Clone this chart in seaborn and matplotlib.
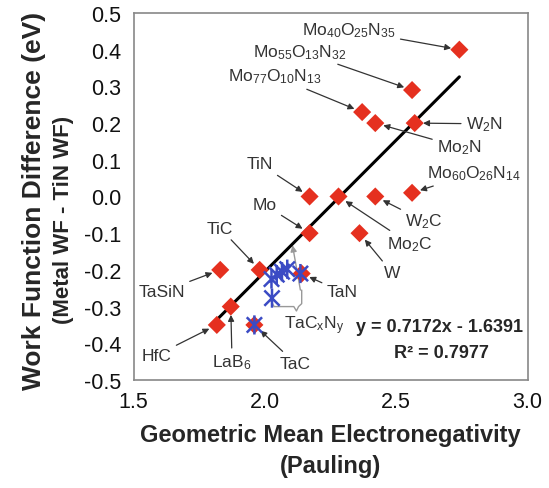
import re
import numpy as np
import pandas as pd
import matplotlib.pyplot as plt
import seaborn as sns
from matplotlib.path import Path

# Values
materials = ["Mo40O25N35", "Mo55O13N32", "Mo77O10N13", "Mo2N", "W2N", "Mo60O26N14",
             "TiN", "Mo2C", "W2C", "Mo", "W", "TiC", "TaSiN", "LaB6", "HfC", "TaC", "TaN"]
electroneg = [2.74, 2.56, 2.37, 2.42, 2.57, 2.56,
              2.17, 2.28, 2.42, 2.17, 2.36, 1.98, 1.83, 1.87, 1.817, 1.96, 2.14]
wf_diff = [0.40, 0.29, 0.23, 0.20, 0.20, 0.01,
           0.00, 0.00, 0.00, -0.10, -0.10, -0.20, -0.20, -0.30, -0.35, -0.35, -0.21]

# TaCxNy films (blue asterisks)
tacn_en = [2.025, 2.045, 2.065, 2.085, 2.027, 2.135, 1.96]
tacn_wf = [-0.225, -0.213, -0.205, -0.198, -0.277, -0.21, -0.35]

# linear fit given in the figure
fit_slope = 0.7172
fit_intercept = -1.6391
r_squared = 0.7977

xticks = [1.5, 2.0, 2.5, 3.0]
yticks = [0.5, 0.4, 0.3, 0.2, 0.1, 0.0, -0.1, -0.2, -0.3, -0.4, -0.5]

sns.set_style("white")
plt.rcParams["font.family"] = ["Liberation Sans", "DejaVu Sans"]
plt.rcParams["mathtext.fontset"] = "custom"
plt.rcParams["mathtext.rm"] = "Liberation Sans"
plt.rcParams["mathtext.it"] = "Liberation Sans"
plt.rcParams["mathtext.bf"] = "Liberation Sans:bold"

df = pd.DataFrame({"material": materials, "en": electroneg, "wf": wf_diff})
tacn = pd.DataFrame({"en": tacn_en, "wf": tacn_wf})

fig = plt.figure(figsize=(5.49, 4.89), dpi=100)
ax = fig.add_axes([0.2432, 0.2209, 0.718, 0.7505])

# fit line over the data range
fit_x = np.array([df["en"].min(), df["en"].max()])
fit = pd.DataFrame({"x": fit_x, "y": fit_slope * fit_x + fit_intercept})
sns.lineplot(data=fit, x="x", y="y", color="black", linewidth=2.2, ax=ax, zorder=3)

sns.scatterplot(data=df, x="en", y="wf", marker="D", s=85, color="#e5301f",
                edgecolor="none", linewidth=0, ax=ax, zorder=4)

# excel-style asterisk (X plus vertical bar)
star = Path([(-1, -1), (1, 1), (-1, 1), (1, -1), (0, -1.25), (0, 1.25)],
            [Path.MOVETO, Path.LINETO, Path.MOVETO, Path.LINETO, Path.MOVETO, Path.LINETO])
ax.scatter(tacn["en"], tacn["wf"], marker=star, s=190, facecolor="none",
           edgecolor="#3b4bc4", linewidths=1.8, zorder=5)

# labels with arrows (text positions in data units)
label_pos = {
    "Mo40O25N35": (2.320, 0.454),
    "Mo55O13N32": (2.134, 0.396),
    "Mo77O10N13": (2.038, 0.328),
    "W2N": (2.834, 0.198),
    "Mo2N": (2.739, 0.135),
    "TiN": (1.981, 0.089),
    "Mo60O26N14": (2.796, 0.064),
    "Mo": (2.000, -0.023),
    "W2C": (2.605, -0.067),
    "Mo2C": (2.552, -0.129),
    "W": (2.484, -0.208),
    "TiC": (1.829, -0.086),
    "TaSiN": (1.608, -0.260),
    "TaN": (2.293, -0.260),
    "HfC": (1.589, -0.432),
    "LaB6": (1.875, -0.451),
    "TaC": (2.115, -0.454),
}
arrow = dict(arrowstyle="-|>", color="#333333", lw=0.9, mutation_scale=9,
             shrinkA=1, shrinkB=6)
for name, x, y in zip(materials, electroneg, wf_diff):
    label = re.sub(r"(\d+)", r"$_{\1}$", name)
    ax.annotate(label, xy=(x, y), xytext=label_pos[name], fontsize=12.5,
                color="#333333", ha="center", va="center", arrowprops=arrow)

# brace around the TaCxNy cluster and arrow to the fit line
brace_x = [2.020, 2.035, 2.110, 2.120, 2.128, 2.140, 2.140]
brace_y = [-0.280, -0.300, -0.300, -0.312, -0.300, -0.292, -0.255]
ax.plot(brace_x, brace_y, color="#999999", lw=1.0, zorder=2)
ax.annotate("", xy=(2.105, -0.133), xytext=(2.135, -0.255),
            arrowprops=dict(arrowstyle="-|>", color="#999999", lw=1.0,
                            mutation_scale=9, shrinkA=0, shrinkB=0), zorder=2)
ax.text(2.187, -0.350, r"TaC$_\mathrm{x}$N$_\mathrm{y}$", fontsize=12.5,
        color="#333333", ha="center", va="center")

ax.text(2.666, -0.353, f"y = {fit_slope}x - {abs(fit_intercept)}", fontsize=13,
        fontweight="bold", ha="center", va="center")
ax.text(2.670, -0.426, f"R² = {r_squared}", fontsize=13,
        fontweight="bold", ha="center", va="center")

ax.set_xlim(1.5, 3.0)
ax.set_ylim(-0.5, 0.5)
ax.set_xticks(xticks)
ax.set_yticks(yticks)
ax.set_xticklabels([f"{t:.1f}" for t in xticks])
ax.set_yticklabels([f"{t:.1f}" for t in yticks])
ax.tick_params(direction="in", length=5, width=1, color="#888888",
               labelsize=15.5, labelcolor="#111111")
ax.tick_params(axis="y", pad=9)
ax.tick_params(axis="x", pad=8)
for sp in ax.spines.values():
    sp.set_color("#888888")
    sp.set_linewidth(1.2)

ax.set_xlabel("Geometric Mean Electronegativity\n(Pauling)", fontsize=17,
              fontweight="bold", labelpad=8, linespacing=1.45)
ax.set_ylabel("")
fig.text(0.062, 0.589, "Work Function Difference (eV)", rotation=90, fontsize=19,
         fontweight="bold", ha="center", va="center")
fig.text(0.115, 0.55, "(Metal WF - TiN WF)", rotation=90, fontsize=16,
         fontweight="bold", ha="center", va="center")

fig.savefig("out.png", dpi=100)
